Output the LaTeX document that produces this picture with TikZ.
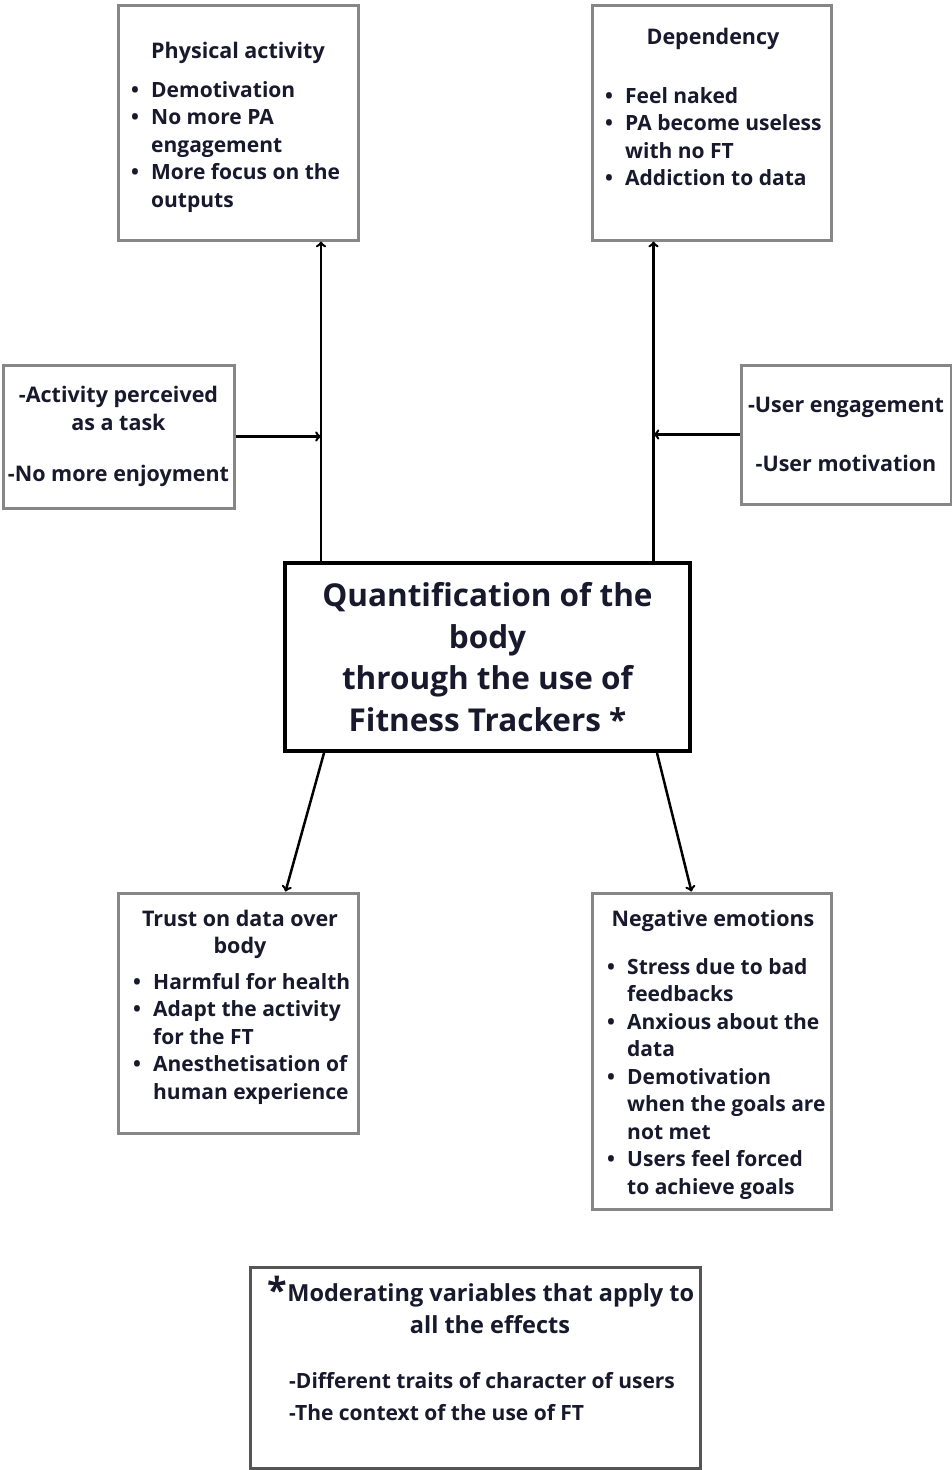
\documentclass[tikz,border=0pt]{standalone}
\usepackage{fontspec}
\setmainfont{Open Sans}
\usepackage{tikz}
\definecolor{ink}{RGB}{25,25,45}
\definecolor{boxgray}{RGB}{135,135,135}
\definecolor{notegray}{RGB}{85,85,85}
\newcommand{\bul}{\makebox[20pt][l]{\textbullet}}
\newcommand{\pts}[1]{\begin{tabular}[t]{@{}l@{}l@{}}#1\end{tabular}}
\newcommand{\ctr}[1]{\begin{tabular}[t]{@{}c@{}}#1\end{tabular}}

\begin{document}
\begin{tikzpicture}[x=1pt,y=-1pt,
  box/.style={draw=boxgray,line width=3pt,fill=white,inner sep=0pt},
  mainbox/.style={draw=black,line width=4pt,fill=white,inner sep=0pt,align=center,
    text=ink,font=\bfseries\fontsize{31.5}{41.5}\selectfont},
  notebox/.style={draw=notegray,line width=3pt,fill=white,inner sep=0pt},
  txt/.style={inner sep=0pt,text=ink,font=\bfseries\fontsize{21.5}{27.5}\selectfont},
  lst/.style={txt,font=\bfseries\fontsize{21}{27.5}\selectfont},
  arr/.style={->,line width=2.5pt,black}]
  \useasboundingbox (0,0) rectangle (952,1470);
  % central box
  \node[mainbox,minimum width=405,minimum height=188] (qb) at (487.5,657)
    {Quantification of the\\body\\through the use of\\Fitness Trackers *};
  % physical activity
  \node[box,minimum width=240,minimum height=235] (pa) at (238,122.5) {};
  \node[txt,anchor=base] (patitle) at (238,58) {Physical activity};
  \node[lst,anchor=base west] (palist) at (131,97)
    {\pts{\bul & Demotivation\\ \bul & No more PA\\ & engagement\\
      \bul & More focus on the\\ & outputs}};
  % dependency
  \node[box,minimum width=239,minimum height=235] (dep) at (711.5,122.5) {};
  \node[txt,anchor=base] (deptitle) at (713,44) {Dependency};
  \node[lst,anchor=base west] (deplist) at (605,103)
    {\pts{\bul & Feel naked\\ \bul & PA become useless\\ & with no FT\\
      \bul & Addiction to data}};
  % moderators
  \node[box,minimum width=231,minimum height=143,align=center,txt] (modl) at (118.5,436.5)
    {-Activity perceived\\as a task\\[24pt]-No more enjoyment};
  \node[box,minimum width=210,minimum height=139,align=center,txt] (modr) at (846,434.5)
    {-User engagement\\[31pt]-User motivation};
  % trust on data
  \node[box,minimum width=240,minimum height=240] (tr) at (238,1013) {};
  \node[txt,anchor=base] (trtitle) at (240,926) {\ctr{Trust on data over\\body}};
  \node[lst,anchor=base west] (trlist) at (133,989)
    {\pts{\bul & Harmful for health\\ \bul & Adapt the activity\\ & for the FT\\
      \bul & Anesthetisation of\\ & human experience}};
  % negative emotions
  \node[box,minimum width=239,minimum height=316] (ne) at (711.5,1051) {};
  \node[txt,anchor=base] (netitle) at (713,926) {Negative emotions};
  \node[lst,anchor=base west] (nelist) at (607,974)
    {\pts{\bul & Stress due to bad\\ & feedbacks\\ \bul & Anxious about the\\ & data\\
      \bul & Demotivation\\ & when the goals are\\ & not met\\
      \bul & Users feel forced\\ & to achieve goals}};
  % footnote
  \node[notebox,minimum width=450,minimum height=201] (note) at (475,1367.5) {};
  \node[txt,anchor=base,font=\bfseries\fontsize{23.5}{32}\selectfont] (notetitle) at (481,1301)
    {\ctr{\raisebox{-2pt}{\fontsize{36}{36}\selectfont*}Moderating variables that apply to\\\hspace*{18pt}all the effects}};
  \node[txt,anchor=base west,font=\bfseries\fontsize{21}{32}\selectfont] (notelist) at (289,1388)
    {\begin{tabular}[t]{@{}l@{}}-Different traits of character of users\\-The context of the use of FT\end{tabular}};
  % arrows
  \coordinate (paIn) at ([xshift=83pt]pa.south);
  \coordinate (depIn) at ([xshift=-58pt]dep.south);
  \draw[arr] (qb.north -| paIn) -- (paIn);
  \draw[arr] (qb.north -| depIn) -- (depIn);
  \draw[arr] (modl.east) -- (modl.east -| paIn);
  \draw[arr] (modr.west) -- (modr.west -| depIn);
  \draw[arr] ([xshift=41pt]qb.south west) -- ([xshift=169pt]tr.north west);
  \draw[arr] ([xshift=-35pt]qb.south east) -- ([xshift=-141pt]ne.north east);
\end{tikzpicture}
\end{document}
